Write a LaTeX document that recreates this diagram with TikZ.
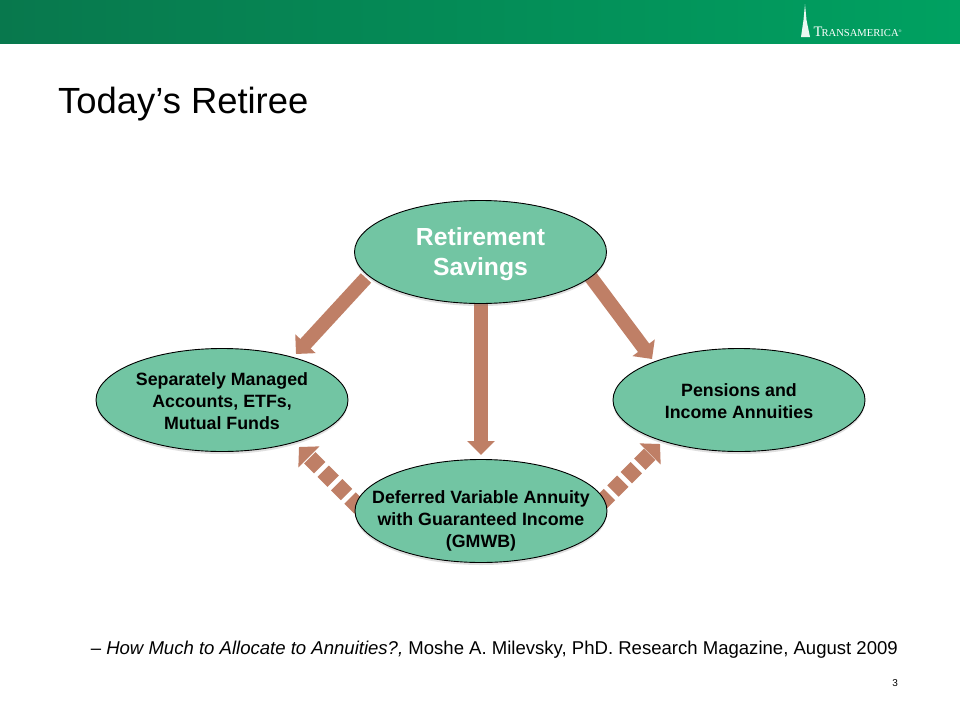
\documentclass[tikz,border=0pt]{standalone}
\usepackage{fontspec}
\setmainfont{Liberation Sans}
\newfontfamily\logofont{Liberation Serif}
\usetikzlibrary{arrows.meta,shapes.geometric,shadows,fadings}
\definecolor{oval}{HTML}{72C5A3}
\definecolor{arrowc}{HTML}{BF7F66}
\definecolor{hdL}{HTML}{08784D}
\definecolor{hdR}{HTML}{00A161}
\tikzset{
  x=1pt,y=-1pt,
  oval/.style={ellipse,draw=black,line width=0.9pt,fill=oval,minimum width=252pt,minimum height=103pt,inner sep=-40pt,align=center,font=\bfseries\fontsize{17.8}{22}\selectfont,drop shadow={shadow xshift=0pt,shadow yshift=-2.5pt,opacity=.25}},
  flow/.style={draw=arrowc,line width=14pt,-{Triangle[length=14pt,width=27pt]}},
  flowd/.style={draw=arrowc,line width=16pt,-{Triangle[length=14pt,width=29pt]},dash pattern=on 14pt off 5pt},
}
\begin{document}
\begin{tikzpicture}
\useasboundingbox (0,0) rectangle (960,720);
\fill[white] (0,0) rectangle (960,720);
\shade[left color=hdL,right color=hdR] (0,0) rectangle (960,43.7);
% logo
\fill[white!92!hdR] (805,4) -- (806.5,20) -- (810,37) -- (801,37) -- (803.5,20) -- cycle;
\node[anchor=base west,inner sep=0pt,text=white,font=\logofont] (logo) at (813.5,36.5) {\fontsize{14.5}{12}\selectfont T\kern-1pt\fontsize{10.6}{12}\selectfont RANSAMERICA\fontsize{4}{4}\selectfont\raisebox{4pt}{®}};
\node[anchor=base west,inner sep=0pt,font=\fontsize{36.4}{40}\selectfont] (title) at (58,113) {Today’s Retiree};
% endpoints
\coordinate (s1) at (366,278);
\coordinate (e1) at (296,354);
\coordinate (s2) at (481,295);
\coordinate (e2) at (481,455);
\coordinate (s3) at (590,276);
\coordinate (e3) at (652,359);
\coordinate (s4) at (360,508);
\coordinate (e4) at (299,447);
\coordinate (s5) at (599.5,504.5);
\coordinate (e5) at (660,444);
\draw[flow] (s1) -- (e1);
\draw[flow] (s2) -- (e2);
\draw[flow] (s3) -- (e3);
\draw[flowd] (s4) -- (e4);
\draw[flowd] (s5) -- (e5);
\node[oval,text=white,font=\bfseries\fontsize{24.7}{30}\selectfont] (top) at (480.5,252) {\rule{0pt}{22pt}Retirement\\Savings};
\node[oval] (left) at (222,400) {\rule{0pt}{16pt}Separately Managed\\Accounts, ETFs,\\Mutual Funds};
\node[oval] (right) at (739,400) {\rule{0pt}{16pt}Pensions and\\Income Annuities};
\node[oval] (bottom) at (481,511) {\rule{0pt}{32pt}Deferred Variable Annuity\\with Guaranteed Income\\(GMWB)};
\node[anchor=base east,inner sep=0pt,font=\fontsize{18.55}{20}\selectfont] (cite) at (898,654) {– \textit{How Much to Allocate to Annuities?,} Moshe A. Milevsky, PhD. Research Magazine, August 2009};
\node[anchor=base east,inner sep=0pt,font=\fontsize{10}{12}\selectfont] (page) at (898,686) {3};
\end{tikzpicture}
\end{document}
